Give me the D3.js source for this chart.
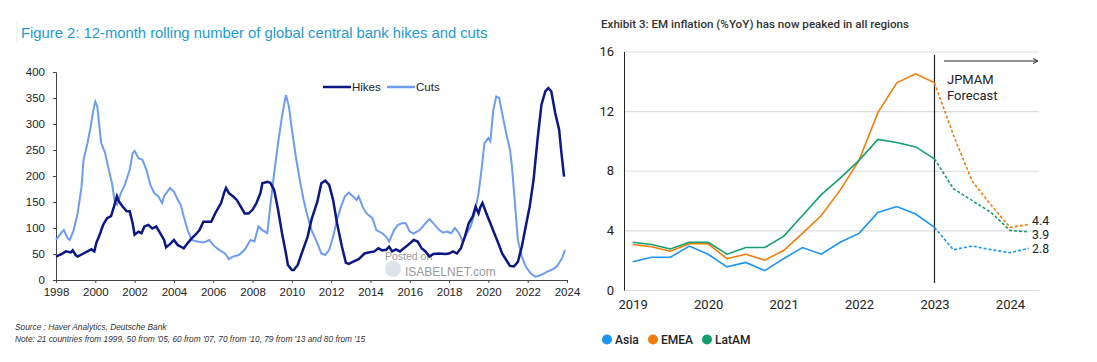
<!DOCTYPE html>
<html>
<head>
<meta charset="utf-8">
<script src="https://cdn.jsdelivr.net/npm/d3@7"></script>
<style>
  body { margin: 0; background: #fff; }
  svg { display: block; }
</style>
</head>
<body>
<svg width="1097" height="362"></svg>
<script>
// ---- left chart: 12-month rolling hikes / cuts ([year, count])
const hikes = [
  [1998.0,45],[1998.3,50],[1998.5,55],[1998.75,53],[1998.85,57],[1999.0,48],[1999.1,45],[1999.4,51],
  [1999.6,55],[1999.8,59],[1999.95,55],[2000.05,71],[2000.25,90],[2000.4,106],[2000.6,119],[2000.8,123],
  [2000.95,141],[2001.1,161],[2001.2,151],[2001.4,141],[2001.6,132],[2001.75,132],[2001.9,109],[2002.0,87],
  [2002.2,93],[2002.35,90],[2002.5,103],[2002.7,106],[2002.9,99],[2003.1,103],[2003.3,90],[2003.5,77],
  [2003.6,63],[2003.8,69],[2004.0,77],[2004.2,67],[2004.4,63],[2004.5,61],[2004.7,71],[2004.9,80],
  [2005.1,87],[2005.3,96],[2005.5,112],[2005.7,112],[2005.9,112],[2006.1,128],[2006.4,148],[2006.55,167],
  [2006.65,177],[2006.8,167],[2007.0,161],[2007.2,154],[2007.4,141],[2007.6,128],[2007.8,128],[2008.0,135],
  [2008.2,148],[2008.4,167],[2008.5,186],[2008.75,189],[2008.9,187],[2009.1,173],[2009.3,135],[2009.5,90],
  [2009.7,51],[2009.8,29],[2010.0,19],[2010.1,19],[2010.3,29],[2010.5,51],[2010.8,83],[2011.0,116],
  [2011.3,151],[2011.5,186],[2011.7,191],[2011.9,183],[2012.1,154],[2012.3,109],[2012.55,64],[2012.75,33],
  [2012.9,31],[2013.1,35],[2013.4,40],[2013.7,51],[2013.9,53],[2014.2,55],[2014.4,61],[2014.6,57],
  [2014.8,58],[2014.95,64],[2015.1,55],[2015.3,59],[2015.5,55],[2015.7,61],[2015.9,67],[2016.2,77],
  [2016.4,74],[2016.6,61],[2016.8,55],[2017.0,45],[2017.2,50],[2017.5,51],[2017.8,50],[2018.0,51],
  [2018.2,55],[2018.4,51],[2018.6,61],[2018.8,83],[2019.0,109],[2019.2,122],[2019.35,141],[2019.5,128],
  [2019.6,141],[2019.7,148],[2019.9,128],[2020.1,109],[2020.3,90],[2020.5,71],[2020.7,51],[2020.9,39],
  [2021.1,27],[2021.3,26],[2021.5,35],[2021.7,64],[2021.9,103],[2022.1,141],[2022.3,193],[2022.5,270],
  [2022.7,337],[2022.9,363],[2023.05,369],[2023.2,363],[2023.4,321],[2023.6,289],[2023.7,250],[2023.85,199]
];
const cuts = [
  [1998.0,77],[1998.25,90],[1998.4,96],[1998.6,80],[1998.7,77],[1998.9,96],[1999.1,128],[1999.3,180],
  [1999.4,231],[1999.6,263],[1999.75,292],[1999.9,327],[2000.0,343],[2000.1,334],[2000.3,263],[2000.5,244],
  [2000.65,218],[2000.85,186],[2001.0,148],[2001.1,145],[2001.3,167],[2001.5,183],[2001.75,212],[2001.9,244],
  [2002.0,248],[2002.2,234],[2002.4,231],[2002.6,212],[2002.8,183],[2003.0,167],[2003.2,161],[2003.4,148],
  [2003.5,161],[2003.8,177],[2004.0,170],[2004.2,154],[2004.35,144],[2004.5,122],[2004.7,96],[2004.9,77],
  [2005.2,74],[2005.5,72],[2005.8,77],[2006.0,67],[2006.3,58],[2006.6,51],[2006.8,40],[2007.0,45],
  [2007.3,48],[2007.6,58],[2007.9,77],[2008.1,74],[2008.3,103],[2008.5,96],[2008.75,90],[2008.9,141],
  [2009.1,205],[2009.3,263],[2009.5,315],[2009.7,356],[2009.85,334],[2010.0,290],[2010.2,238],[2010.4,193],
  [2010.6,154],[2010.8,122],[2011.0,96],[2011.3,71],[2011.5,51],[2011.7,48],[2011.9,58],[2012.1,83],
  [2012.3,116],[2012.5,141],[2012.7,161],[2012.9,168],[2013.1,161],[2013.3,154],[2013.4,161],[2013.6,141],
  [2013.8,128],[2014.1,119],[2014.3,96],[2014.6,90],[2014.8,83],[2014.95,74],[2015.2,96],[2015.4,106],
  [2015.6,109],[2015.8,109],[2016.0,93],[2016.2,89],[2016.5,96],[2016.8,109],[2017.0,117],[2017.2,109],
  [2017.5,96],[2017.7,91],[2017.9,93],[2018.1,90],[2018.3,100],[2018.5,90],[2018.7,74],[2018.9,90],
  [2019.1,103],[2019.3,128],[2019.5,167],[2019.65,212],[2019.8,263],[2020.0,273],[2020.1,267],[2020.25,327],
  [2020.4,353],[2020.55,350],[2020.7,321],[2020.9,283],[2021.1,250],[2021.2,218],[2021.35,148],[2021.5,77],
  [2021.7,45],[2021.9,26],[2022.15,13],[2022.4,6],[2022.7,10],[2023.0,16],[2023.3,21],[2023.5,27],
  [2023.75,42],[2023.9,58]
];
const leftYTicks = [0, 50, 100, 150, 200, 250, 300, 350, 400];
const leftXTicks = [1998, 2000, 2002, 2004, 2006, 2008, 2010, 2012, 2014, 2016, 2018, 2020, 2022, 2024];

// ---- right chart: EM inflation %YoY, quarterly from 2019 Q1
const quarters = d3.range(22).map(i => 2019 + i * 0.25);
const actualCount = 17; // 2019.0 .. 2023.0 are actual, rest is forecast
const asia  = [1.9,2.2,2.2,2.95,2.4,1.55,1.85,1.3,2.1,2.85,2.4,3.2,3.8,5.2,5.6,5.1,4.2, 2.7,2.95,2.7,2.5,2.8];
const emea  = [3.05,2.9,2.6,3.1,3.1,2.1,2.4,2.0,2.65,3.8,5.0,6.7,8.7,11.9,13.9,14.5,13.9, 10.4,7.3,5.7,4.2,4.4];
const latam = [3.2,3.05,2.75,3.2,3.2,2.4,2.85,2.85,3.6,5.0,6.4,7.5,8.7,10.1,9.9,9.6,8.8, 6.8,6.0,5.2,4.0,3.9];
const rightYTicks = [0, 4, 8, 12, 16];
const rightXTicks = [2019, 2020, 2021, 2022, 2023, 2024];
const regions = [
  { name: "Asia",  values: asia,  color: "#1a94f5" },
  { name: "EMEA",  values: emea,  color: "#f07c0c" },
  { name: "LatAM", values: latam, color: "#13a06e" }
];

const svg = d3.select("svg");

// ================= LEFT =================
const lf = "'Liberation Sans', Arial, sans-serif";
const xL = d3.scaleLinear().domain([1998, 2024]).range([56, 567]);
const yL = d3.scaleLinear().domain([0, 400]).range([280, 72]);

svg.append("line").attr("x1", 17).attr("x2", 17).attr("y1", 22).attr("y2", 42)
  .attr("stroke", "#e4eef5");
svg.append("text").attr("x", 21).attr("y", 38)
  .attr("font-family", lf).attr("font-size", 14.8).attr("fill", "#1d9ad6")
  .text("Figure 2: 12-month rolling number of global central bank hikes and cuts");

const gL = svg.append("g");
gL.append("g").attr("transform", "translate(56,0)")
  .call(d3.axisLeft(yL).tickValues(leftYTicks).tickSize(3).tickPadding(8))
  .call(g => g.selectAll("text").attr("font-family", lf).attr("font-size", 11.5).attr("fill", "#222"))
  .call(g => g.selectAll("line, path").attr("stroke", "#444"));
gL.append("g").attr("transform", "translate(0,280)")
  .call(d3.axisBottom(xL).tickValues(leftXTicks).tickFormat(d3.format("d")).tickSize(3).tickPadding(5))
  .call(g => g.selectAll("text").attr("font-family", lf).attr("font-size", 11.5).attr("fill", "#222"))
  .call(g => g.selectAll("line, path").attr("stroke", "#444"));

// watermark
gL.append("circle").attr("cx", 393).attr("cy", 269).attr("r", 8).attr("fill", "#dde3ea");
gL.append("text").attr("x", 385).attr("y", 260).attr("font-family", lf).attr("font-size", 10.5)
  .attr("fill", "#9a9a9a").text("Posted on");
gL.append("text").attr("x", 405).attr("y", 276).attr("font-family", lf).attr("font-size", 12)
  .attr("fill", "#9a9a9a").text("ISABELNET.com");

const lineL = d3.line().x(d => xL(d[0])).y(d => yL(d[1]));
gL.append("path").datum(cuts).attr("d", lineL).attr("fill", "none")
  .attr("stroke", "#6e9cf0").attr("stroke-width", 2);
gL.append("path").datum(hikes).attr("d", lineL).attr("fill", "none")
  .attr("stroke", "#0b1784").attr("stroke-width", 2.5);

// legend
const legL = [{ name: "Hikes", color: "#0b1784", x: 323 }, { name: "Cuts", color: "#6e9cf0", x: 387 }];
legL.forEach(d => {
  gL.append("line").attr("x1", d.x).attr("x2", d.x + 28).attr("y1", 87).attr("y2", 87)
    .attr("stroke", d.color).attr("stroke-width", 2.5);
  gL.append("text").attr("x", d.x + 29).attr("y", 91).attr("font-family", lf).attr("font-size", 11.5)
    .attr("fill", "#222").text(d.name);
});

svg.append("text").attr("x", 15).attr("y", 330).attr("font-family", lf).attr("font-size", 8.3)
  .attr("font-style", "italic").attr("fill", "#333").text("Source : Haver Analytics, Deutsche Bank");
svg.append("text").attr("x", 15).attr("y", 342).attr("font-family", lf).attr("font-size", 8.3)
  .attr("font-style", "italic").attr("fill", "#333")
  .text("Note: 21 countries from 1999, 50 from '05,  60 from '07, 70 from '10, 79 from '13 and 80 from '15");

// ================= RIGHT =================
const rf = "Roboto, 'Liberation Sans', sans-serif";
const xR = d3.scaleLinear().domain([2018.885, 2024.385]).range([624, 1039]);
const yR = d3.scaleLinear().domain([0, 16]).range([290, 51.5]);

svg.append("text").attr("x", 601).attr("y", 28).attr("font-family", rf).attr("font-size", 11.6)
  .attr("font-weight", 500).attr("fill", "#333")
  .text("Exhibit 3: EM inflation (%YoY) has now peaked in all regions");

const gR = svg.append("g");
gR.append("g").attr("transform", "translate(624,0)")
  .call(d3.axisRight(yR).tickValues(rightYTicks).tickSize(415).tickFormat(""))
  .call(g => g.select(".domain").remove())
  .call(g => g.selectAll("line").attr("stroke", "#dcdcdc").attr("stroke-width", 1.2));
gR.append("g").attr("transform", "translate(624,0)")
  .call(d3.axisLeft(yR).tickValues(rightYTicks).tickSize(0).tickPadding(10))
  .call(g => g.selectAll("text").attr("font-family", rf).attr("font-size", 13).attr("fill", "#222"))
  .call(g => g.select(".domain").attr("stroke", "#222"));
gR.append("g").attr("transform", "translate(0,290)")
  .call(d3.axisBottom(xR).tickValues(rightXTicks).tickFormat(d3.format("d")).tickSize(0).tickPadding(10))
  .call(g => g.select(".domain").remove())
  .call(g => g.selectAll("text").attr("font-family", rf).attr("font-size", 13).attr("fill", "#222"));

// forecast marker
gR.append("line").attr("x1", xR(2023)).attr("x2", xR(2023)).attr("y1", 55).attr("y2", 283)
  .attr("stroke", "#222").attr("stroke-width", 1.2);
gR.append("line").attr("x1", 944).attr("x2", 1037).attr("y1", 61).attr("y2", 61)
  .attr("stroke", "#222").attr("stroke-width", 1);
gR.append("path").attr("d", "M1033,58.5 L1038,61 L1033,63.5").attr("fill", "none").attr("stroke", "#222");
gR.append("text").attr("x", 947).attr("y", 84).attr("font-family", rf).attr("font-size", 13)
  .attr("fill", "#222").text("JPMAM");
gR.append("text").attr("x", 947).attr("y", 100).attr("font-family", rf).attr("font-size", 13)
  .attr("fill", "#222").text("Forecast");

const lineR = d3.line().x(d => xR(d[0])).y(d => yR(d[1]));
regions.forEach(r => {
  const pts = quarters.map((q, i) => [q, r.values[i]]);
  gR.append("path").datum(pts.slice(0, actualCount)).attr("d", lineR).attr("fill", "none")
    .attr("stroke", r.color).attr("stroke-width", 1.6);
  gR.append("path").datum(pts.slice(actualCount - 1)).attr("d", lineR).attr("fill", "none")
    .attr("stroke", r.color).attr("stroke-width", 1.6).attr("stroke-dasharray", "3,2");
});

// end labels
const endLabels = [{ v: 4.4, y: 225 }, { v: 3.9, y: 238.5 }, { v: 2.8, y: 253 }];
endLabels.forEach(d => {
  gR.append("text").attr("x", 1032).attr("y", d.y).attr("font-family", rf).attr("font-size", 12.3)
    .attr("fill", "#222").text(d3.format(".1f")(d.v));
});

// legend
const legX = [607, 653, 707];
regions.forEach((r, i) => {
  gR.append("circle").attr("cx", legX[i]).attr("cy", 339.5).attr("r", 5).attr("fill", r.color);
  gR.append("text").attr("x", legX[i] + 8).attr("y", 344).attr("font-family", rf).attr("font-size", 12)
    .attr("font-weight", 500).attr("fill", "#222").text(r.name);
});
</script>
</body>
</html>
